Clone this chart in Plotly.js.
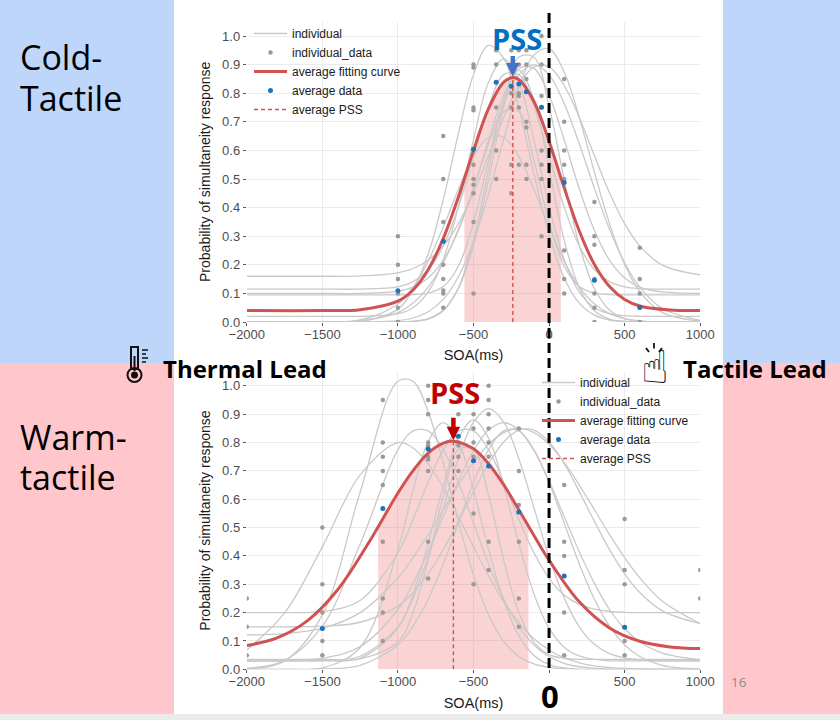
<!DOCTYPE html>
<html>
<head>
<meta charset="utf-8">
<script src="https://cdn.plot.ly/plotly-3.0.1.min.js"></script>
<style>
  html, body { margin: 0; padding: 0; background: #fff; }
</style>
</head>
<body>
<div id="chart" style="width:840px;height:720px"></div>
<script>
// ---- data ----
// SOA grid used for the individual fitted curves
var SOA_GRID = [-2000, -1750, -1500, -1250, -1000, -900, -800, -700, -600, -500, -400,
                -300, -200, -100, 0, 100, 200, 300, 400, 500, 600, 750, 1000];

// cold-tactile, one row per participant curve
var coldIndividual = [
  [0, 0, 0, 0.002, 0.045, 0.112, 0.237, 0.428, 0.659, 0.865, 0.967, 0.922, 0.749, 0.518, 0.306, 0.154, 0.066, 0.024, 0.007, 0.002, 0, 0, 0],
  [0, 0, 0, 0, 0, 0.003, 0.012, 0.042, 0.117, 0.268, 0.498, 0.753, 0.926, 0.926, 0.753, 0.498, 0.268, 0.117, 0.042, 0.012, 0.003, 0, 0],
  [0, 0, 0, 0, 0.005, 0.014, 0.036, 0.079, 0.158, 0.281, 0.449, 0.640, 0.818, 0.934, 0.955, 0.874, 0.715, 0.524, 0.344, 0.202, 0.106, 0.033, 0.003],
  [0.16, 0.16, 0.16, 0.161, 0.172, 0.187, 0.216, 0.266, 0.344, 0.452, 0.582, 0.715, 0.827, 0.892, 0.892, 0.827, 0.715, 0.582, 0.452, 0.344, 0.266, 0.199, 0.165],
  [0.115, 0.115, 0.115, 0.115, 0.123, 0.141, 0.183, 0.266, 0.402, 0.579, 0.754, 0.865, 0.865, 0.754, 0.579, 0.402, 0.266, 0.183, 0.141, 0.123, 0.117, 0.115, 0.115],
  [0.10, 0.10, 0.10, 0.10, 0.108, 0.122, 0.154, 0.216, 0.320, 0.466, 0.637, 0.793, 0.887, 0.887, 0.793, 0.637, 0.466, 0.320, 0.216, 0.154, 0.122, 0.105, 0.10],
  [0.095, 0.095, 0.095, 0.095, 0.095, 0.096, 0.101, 0.124, 0.195, 0.348, 0.565, 0.735, 0.735, 0.565, 0.348, 0.195, 0.124, 0.101, 0.096, 0.095, 0.095, 0.095, 0.095],
  [0, 0, 0, 0.007, 0.063, 0.122, 0.213, 0.332, 0.463, 0.578, 0.646, 0.646, 0.578, 0.463, 0.332, 0.213, 0.122, 0.063, 0.029, 0.012, 0.004, 0, 0],
  [0, 0, 0, 0, 0, 0.002, 0.010, 0.039, 0.119, 0.286, 0.534, 0.777, 0.88, 0.777, 0.534, 0.286, 0.119, 0.039, 0.010, 0.002, 0, 0, 0],
  [0.02, 0.02, 0.02, 0.02, 0.029, 0.050, 0.105, 0.218, 0.404, 0.637, 0.839, 0.92, 0.839, 0.637, 0.404, 0.218, 0.105, 0.050, 0.029, 0.022, 0.02, 0.02, 0.02],
  [0, 0, 0, 0.004, 0.033, 0.066, 0.122, 0.207, 0.324, 0.468, 0.623, 0.764, 0.864, 0.90, 0.864, 0.764, 0.623, 0.468, 0.324, 0.207, 0.122, 0.047, 0.006]
];

var coldPtsX = [-1000, -1000, -1000, -1000, -1000, -1000,
                -700, -700, -700, -700, -700, -700, -700, -700,
                -500, -500, -500, -500, -500, -500, -500, -500, -500, -500,
                -350, -350, -350, -350, -350,
                -250, -250, -250, -250, -250, -250,
                -200, -200, -200, -200, -200, -200,
                -150, -150, -150, -150, -150, -150, -150,
                -50, -50, -50, -50, -50, -50, -50, -50,
                100, 100, 100, 100, 100, 100, 100, 100,
                300, 300, 300, 300, 300, 300, 300,
                600, 600, 600, 600];
var coldPtsY = [0.30, 0.20, 0.15, 0.10, 0.05, 0.0,
                0.65, 0.50, 0.35, 0.20, 0.15, 0.11, 0.10, 0.05,
                0.90, 0.89, 0.75, 0.74, 0.55, 0.50, 0.48, 0.45, 0.35, 0.10,
                0.95, 0.90, 0.75, 0.60, 0.50,
                0.95, 0.90, 0.80, 0.75, 0.55, 0.45,
                0.95, 0.90, 0.80, 0.79, 0.75, 0.55,
                0.95, 0.90, 0.85, 0.70, 0.68, 0.55, 0.50,
                1.00, 0.90, 0.79, 0.75, 0.60, 0.55, 0.50, 0.30,
                0.85, 0.70, 0.60, 0.55, 0.50, 0.25, 0.15, 0.10,
                0.42, 0.30, 0.27, 0.15, 0.10, 0.05, 0.0,
                0.26, 0.15, 0.10, 0.0];

var coldAvgX = [-1000, -700, -500, -350, -250, -200, -150, -50, 100, 300, 600];
var coldAvgY = [0.109, 0.282, 0.604, 0.838, 0.824, 0.832, 0.805, 0.751, 0.488, 0.146, 0.051];

var coldFitX = [-2000, -1500, -1250, -1000, -900, -800, -700, -600, -500, -400, -300, -240,
                -200, -100, 0, 100, 200, 300, 400, 500, 600, 800, 1000];
var coldFitY = [0.040, 0.040, 0.043, 0.073, 0.112, 0.183, 0.292, 0.437, 0.600, 0.747, 0.839, 0.855,
                0.848, 0.771, 0.632, 0.469, 0.318, 0.201, 0.124, 0.079, 0.056, 0.042, 0.040];

var coldBandX = [-560, -500, -400, -300, -240, -200, -100, 0, 78];
var coldBandY = [0.50, 0.600, 0.747, 0.839, 0.855, 0.848, 0.771, 0.632, 0.505];

var coldPss = -240;
var coldPeak = 0.855;

// warm-tactile
var warmIndividual = [
  [0.002, 0.029, 0.192, 0.625, 1.016, 1.016, 0.909, 0.728, 0.521, 0.334, 0.192, 0.098, 0.045, 0.019, 0.007, 0.002, 0, 0, 0, 0, 0, 0, 0],
  [0.03, 0.03, 0.031, 0.046, 0.150, 0.252, 0.396, 0.570, 0.743, 0.872, 0.92, 0.872, 0.743, 0.570, 0.396, 0.252, 0.150, 0.088, 0.055, 0.040, 0.033, 0.03, 0.03],
  [0.03, 0.031, 0.039, 0.080, 0.211, 0.303, 0.415, 0.539, 0.664, 0.771, 0.844, 0.87, 0.844, 0.771, 0.664, 0.539, 0.415, 0.303, 0.211, 0.143, 0.097, 0.057, 0.034],
  [0.121, 0.126, 0.145, 0.200, 0.323, 0.394, 0.475, 0.563, 0.650, 0.730, 0.794, 0.835, 0.85, 0.835, 0.794, 0.730, 0.650, 0.563, 0.475, 0.394, 0.323, 0.240, 0.161],
  [0.004, 0.031, 0.152, 0.442, 0.775, 0.841, 0.841, 0.775, 0.659, 0.516, 0.372, 0.247, 0.152, 0.086, 0.045, 0.021, 0.009, 0.004, 0, 0, 0, 0, 0],
  [0.20, 0.20, 0.204, 0.243, 0.411, 0.529, 0.659, 0.774, 0.841, 0.841, 0.774, 0.659, 0.529, 0.411, 0.321, 0.262, 0.229, 0.212, 0.204, 0.201, 0.20, 0.20, 0.20],
  [0, 0, 0.005, 0.077, 0.423, 0.632, 0.803, 0.87, 0.803, 0.632, 0.423, 0.242, 0.118, 0.049, 0.017, 0.005, 0, 0, 0, 0, 0, 0, 0],
  [0.03, 0.03, 0.03, 0.039, 0.145, 0.266, 0.444, 0.647, 0.815, 0.88, 0.815, 0.647, 0.444, 0.266, 0.145, 0.078, 0.047, 0.035, 0.03, 0.03, 0.03, 0.03, 0.03],
  [0.068, 0.199, 0.432, 0.686, 0.80, 0.781, 0.725, 0.641, 0.539, 0.432, 0.329, 0.238, 0.165, 0.108, 0.068, 0.040, 0.023, 0.012, 0.006, 0.003, 0.001, 0, 0],
  [0, 0, 0.001, 0.014, 0.086, 0.152, 0.247, 0.372, 0.516, 0.659, 0.775, 0.841, 0.841, 0.775, 0.659, 0.516, 0.372, 0.247, 0.152, 0.086, 0.045, 0.014, 0.001],
  [0.035, 0.035, 0.035, 0.037, 0.096, 0.200, 0.385, 0.613, 0.776, 0.776, 0.613, 0.385, 0.200, 0.096, 0.052, 0.039, 0.035, 0.035, 0.035, 0.035, 0.035, 0.035, 0.035],
  [0.15, 0.15, 0.152, 0.166, 0.223, 0.271, 0.337, 0.422, 0.522, 0.627, 0.726, 0.802, 0.844, 0.844, 0.802, 0.726, 0.627, 0.522, 0.422, 0.337, 0.271, 0.206, 0.161]
];

var warmPtsX = [-2000, -2000, -2000,
                -1500, -1500, -1500, -1500, -1500,
                -1100, -1100, -1100, -1100, -1100, -1100, -1100, -1100, -1100,
                -800, -800, -800, -800, -800, -800, -800, -800, -800, -800,
                -600, -600, -600, -600, -600, -600, -600,
                -500, -500, -500, -500, -500, -500,
                -400, -400, -400, -400, -400, -400, -400, -400,
                -200, -200, -200, -200, -200, -200,
                100, 100, 100, 100, 100,
                500, 500, 500, 500, 500,
                1000, 1000];
var warmPtsY = [0.25, 0.15, 0.05,
                0.50, 0.30, 0.20, 0.10, 0.05,
                0.95, 0.80, 0.75, 0.70, 0.65, 0.45, 0.25, 0.20, 0.10,
                1.00, 0.95, 0.90, 0.80, 0.79, 0.75, 0.74, 0.70, 0.45, 0.32,
                1.00, 0.95, 0.90, 0.80, 0.79, 0.75, 0.70,
                0.90, 0.85, 0.80, 0.75, 0.55, 0.30,
                1.00, 0.95, 0.90, 0.85, 0.80, 0.75, 0.45, 0.35,
                0.85, 0.70, 0.58, 0.45, 0.25, 0.15,
                0.65, 0.45, 0.40, 0.20, 0.05,
                0.53, 0.35, 0.30, 0.10, 0.05,
                0.35, 0.25];

var warmAvgX = [-1500, -1100, -800, -600, -500, -400, -200, 100, 500];
var warmAvgY = [0.144, 0.567, 0.777, 0.822, 0.736, 0.717, 0.555, 0.329, 0.148];

var warmFitX = [-2000, -1800, -1600, -1400, -1200, -1000, -900, -800, -700, -633, -500,
                -400, -300, -200, -100, 0, 200, 400, 600, 800, 1000];
var warmFitY = [0.084, 0.111, 0.171, 0.280, 0.441, 0.622, 0.701, 0.763, 0.798, 0.805, 0.778,
                0.725, 0.651, 0.563, 0.472, 0.385, 0.238, 0.146, 0.099, 0.079, 0.073];

var warmBandX = [-1131, -1000, -900, -800, -700, -633, -500, -400, -300, -200, -136];
var warmBandY = [0.504, 0.622, 0.701, 0.763, 0.798, 0.805, 0.778, 0.725, 0.651, 0.563, 0.505];

var warmPss = -633;
var warmPeak = 0.805;

var X_TICKS = [-2000, -1500, -1000, -500, 0, 500, 1000];
var X_LABELS_TOP = ['\u22122000', '\u22121500', '\u22121000', '\u2212500', '0', '500', '1000'];
// the bottom "0" is hidden behind the big zero marker
var X_LABELS_BOTTOM = ['\u22122000', '\u22121500', '\u22121000', '\u2212500', '', '500', '1000'];

// ---- helpers ----
var W = 840, H = 720;
function px(x) { return x / W; }
function py(y) { return 1 - y / H; }

// all individual curves in one trace, split by nulls
function joinCurves(xs, rows) {
    var x = [], y = [];
    rows.forEach(function (r) {
        x = x.concat(xs, [null]);
        y = y.concat(r, [null]);
    });
    return {x: x, y: y};
}

var GRAY_LINE = '#c9c9c9';
var GRAY_DOT = '#9a9a9a';
var RED = '#d05252';
var BLUE = '#1f72b8';
var BAND = 'rgba(238,120,120,0.32)';

function panelTraces(xa, ya, lg, individual, ptsX, ptsY, fitX, fitY, avgX, avgY,
                     bandX, bandY, pss, peak) {
    var curves = joinCurves(SOA_GRID, individual);
    return [
        {x: bandX, y: bandY, xaxis: xa, yaxis: ya, type: 'scatter', mode: 'lines',
         fill: 'tozeroy', fillcolor: BAND, line: {width: 0, shape: 'spline'},
         showlegend: false, hoverinfo: 'skip'},
        {x: curves.x, y: curves.y, xaxis: xa, yaxis: ya, type: 'scatter', mode: 'lines',
         name: 'individual', legend: lg, connectgaps: false,
         line: {color: GRAY_LINE, width: 1.3, shape: 'spline'}},
        {x: ptsX, y: ptsY, xaxis: xa, yaxis: ya, type: 'scatter', mode: 'markers',
         name: 'individual_data', legend: lg,
         marker: {color: GRAY_DOT, size: 4.5}},
        {x: fitX, y: fitY, xaxis: xa, yaxis: ya, type: 'scatter', mode: 'lines',
         name: 'average fitting curve', legend: lg,
         line: {color: RED, width: 3, shape: 'spline'}},
        {x: avgX, y: avgY, xaxis: xa, yaxis: ya, type: 'scatter', mode: 'markers',
         name: 'average data', legend: lg,
         marker: {color: BLUE, size: 5}},
        {x: [pss, pss], y: [0, peak], xaxis: xa, yaxis: ya, type: 'scatter', mode: 'lines',
         name: 'average PSS', legend: lg,
         line: {color: RED, width: 1.4, dash: '4px,3px'}}
    ];
}

var data = [].concat(
    panelTraces('x', 'y', 'legend', coldIndividual, coldPtsX, coldPtsY, coldFitX, coldFitY,
                coldAvgX, coldAvgY, coldBandX, coldBandY, coldPss, coldPeak),
    panelTraces('x2', 'y2', 'legend2', warmIndividual, warmPtsX, warmPtsY, warmFitX, warmFitY,
                warmAvgX, warmAvgY, warmBandX, warmBandY, warmPss, warmPeak)
);

var tickFont = {family: 'Liberation Sans, Arial, sans-serif', size: 13, color: '#4d4d4d'};
var titleFont = {family: 'Liberation Sans, Arial, sans-serif', size: 14.5, color: '#1a1a1a'};

function xAxis(anchor, labels) {
    return {anchor: anchor, domain: [px(246.8), px(700.2)], range: [-2000, 1000],
            tickmode: 'array', tickvals: X_TICKS, ticktext: labels,
            showgrid: true, gridcolor: '#ebebeb', zeroline: false,
            ticks: 'outside', ticklen: 3, tickcolor: '#555', tickfont: tickFont,
            ticklabelstandoff: -3,
            title: {text: 'SOA(ms)', font: titleFont, standoff: 9}};
}
function yAxis(anchor, top, bottom) {
    return {anchor: anchor, domain: [py(bottom), py(top)], range: [0, 1.05],
            tick0: 0, dtick: 0.1, tickformat: '.1f', showgrid: true, gridcolor: '#ebebeb',
            zeroline: false, ticks: 'outside', ticklen: 3, tickcolor: '#555', tickfont: tickFont,
            title: {text: 'Probability of simultaneity response', font: {family: titleFont.family, size: 14, color: '#1a1a1a'}, standoff: 8}};
}

function legendBox(x, y) {
    return {x: px(x), y: py(y), xanchor: 'left', yanchor: 'top', bgcolor: 'rgba(0,0,0,0)',
            borderwidth: 0, itemwidth: 33,
            font: {family: 'Liberation Sans, Arial, sans-serif', size: 12, color: '#1a1a1a'}};
}

var BLUE_BG = '#bfd6fb';
var PINK_BG = '#ffc6cc';

function rect(x0, y0, x1, y1, color) {
    return {type: 'rect', xref: 'paper', yref: 'paper', x0: px(x0), x1: px(x1),
            y0: py(y1), y1: py(y0), fillcolor: color, line: {width: 0}, layer: 'below'};
}
function seg(x0, y0, x1, y1, width) {
    return {type: 'line', xref: 'paper', yref: 'paper', x0: px(x0), y0: py(y0),
            x1: px(x1), y1: py(y1), line: {color: '#111', width: width}, layer: 'above'};
}

var shapes = [
    rect(0, 0, 174, 363, BLUE_BG),
    rect(723, 0, 840, 363, BLUE_BG),
    rect(0, 363, 174, 714, PINK_BG),
    rect(723, 363, 840, 714, PINK_BG),
    rect(0, 714, 840, 720, '#ebebeb'),
    // zero line across both panels
    {type: 'line', xref: 'x', yref: 'paper', x0: 0, x1: 0, y0: py(668), y1: py(8),
     line: {color: '#000', width: 3, dash: '10px,5px'}, layer: 'above'},
    // thermometer icon
    {type: 'rect', xref: 'paper', yref: 'paper', x0: px(131), x1: px(138), y0: py(369), y1: py(347),
     line: {color: '#111', width: 2}, fillcolor: 'rgba(0,0,0,0)', layer: 'above'},
    {type: 'circle', xref: 'paper', yref: 'paper', x0: px(127.5), x1: px(141.5), y0: py(382), y1: py(368),
     line: {color: '#111', width: 2}, fillcolor: 'rgba(0,0,0,0)', layer: 'above'},
    {type: 'circle', xref: 'paper', yref: 'paper', x0: px(131), x1: px(138), y0: py(378.5), y1: py(371.5),
     line: {width: 0}, fillcolor: '#111', layer: 'above'},
    seg(134.5, 371, 134.5, 356, 2),
    seg(142, 350, 148, 350, 1.5),
    seg(142, 354, 146, 354, 1.5),
    seg(142, 358, 148, 358, 1.5),
    seg(142, 362, 146, 362, 1.5),
    // rays above the pointing hand
    seg(646, 348, 649, 352, 1.8),
    seg(654, 343, 654, 348.5, 1.8),
    seg(662, 348, 659, 352, 1.8)
];

var labelFamily = 'Open Sans, Noto Sans, sans-serif';
function label(text, x, y, size, color, anchor) {
    return {text: text, xref: 'paper', yref: 'paper', x: px(x), y: py(y), showarrow: false,
            xanchor: anchor || 'left', yanchor: 'middle',
            font: {family: labelFamily, size: size, color: color || '#000'}};
}
function pssArrow(xa, ya, x, y, color, len) {
    return {text: '', xref: xa, yref: ya, x: x, y: y, showarrow: true, ax: 0, ay: -len,
            arrowhead: 2, arrowsize: 0.6, arrowwidth: 4.5, arrowcolor: color, standoff: 1};
}

var annotations = [
    label('Cold-', 18, 57, 34),
    label('Tactile', 18, 98, 34),
    label('Warm-', 18, 437, 34),
    label('tactile', 18, 477, 34),
    label('<b>Thermal Lead</b>', 161, 368, 24),
    label('<b>Tactile Lead</b>', 681, 368, 24),
    label('☝', 655, 367, 46, '#111', 'center'),
    label('<b>PSS</b>', 516.5, 38, 29, '#0070c0', 'center'),
    pssArrow('x', 'y', coldPss, coldPeak, '#4472c4', 23),
    label('<b>PSS</b>', 455, 393, 29, '#c00000', 'center'),
    pssArrow('x2', 'y2', warmPss, warmPeak, '#c00000', 25),
    label('<b>0</b>', 550, 696, 31, '#000', 'center'),
    label('16', 729, 682, 13.5, '#8c8c8c')
];
annotations[6].font.family = 'DejaVu Sans, sans-serif';

var layout = {
    width: W, height: H,
    margin: {l: 0, r: 0, t: 0, b: 0},
    paper_bgcolor: '#ffffff', plot_bgcolor: '#ffffff',
    font: {family: 'Liberation Sans, Arial, sans-serif'},
    showlegend: true,
    xaxis: xAxis('y', X_LABELS_TOP),
    yaxis: yAxis('x', 21.7, 322),
    xaxis2: xAxis('y2', X_LABELS_BOTTOM),
    yaxis2: yAxis('x2', 371.7, 669.3),
    legend: legendBox(249, 19),
    legend2: legendBox(537, 368),
    shapes: shapes,
    annotations: annotations,
    hovermode: false
};

var config = {displayModeBar: false, responsive: false, staticPlot: true};

Plotly.newPlot(document.getElementById('chart'), data, layout, config);
</script>
</body>
</html>
